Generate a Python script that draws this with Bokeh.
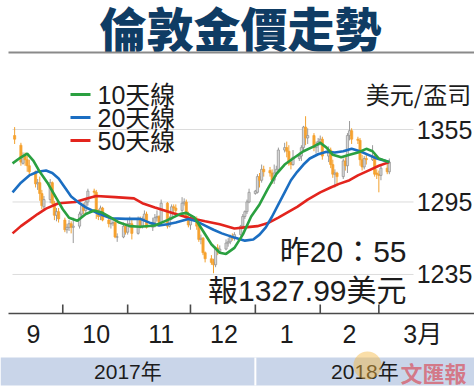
import pandas as pd
from bokeh.plotting import figure
from bokeh.models import Range1d, ColumnDataSource
from bokeh.core.properties import value
from bokeh.embed import file_html
from bokeh.resources import INLINE

# ---------------- data ----------------
title_text = "倫敦金價走勢"
trade_dates = pd.bdate_range("2017-09-08", "2018-03-06")

opens = [1350,
         1342, 1327, 1333, 1330, 1325,
         1320, 1310, 1311, 1302, 1291,
         1297, 1311, 1294, 1284, 1287,
         1280, 1272, 1274, 1277, 1274,
         1275, 1285, 1292, 1288, 1295,
         1304, 1303, 1286, 1283, 1290,
         1280, 1277, 1277, 1278, 1266,
         1266, 1275, 1270, 1277, 1277,
         1269, 1281, 1275, 1281, 1285,
         1274, 1278, 1282, 1283, 1278,
         1294, 1275, 1281, 1291, 1290,
         1288, 1294, 1295, 1282, 1276,
         1280, 1275, 1264, 1265, 1253,
         1248, 1245, 1243, 1257, 1254,
         1256, 1261, 1262, 1266, 1265,
         1268, 1275, 1283, 1287, 1295,
         1302, 1303, 1316, 1313, 1322,
         1321, 1319, 1313, 1319, 1322,
         1338, 1340, 1337, 1328, 1326,
         1331, 1333, 1340, 1357, 1348,
         1350, 1340, 1342, 1345, 1347,
         1333, 1338, 1326, 1318, 1319,
         1316, 1329, 1325, 1350, 1354,
         1347, 1346, 1330, 1324, 1331,
         1330, 1333, 1319, 1318, 1317,
         1323, 1320]

closes = [1347,
          1328, 1333, 1330, 1325, 1320,
          1310, 1311, 1302, 1292, 1297,
          1311, 1294, 1284, 1287, 1281,
          1272, 1274, 1277, 1274, 1275,
          1285, 1292, 1288, 1295, 1304,
          1303, 1286, 1283, 1290, 1280,
          1277, 1277, 1278, 1266, 1266,
          1275, 1270, 1277, 1277, 1269,
          1281, 1275, 1281, 1285, 1274,
          1278, 1282, 1283, 1278, 1294,
          1275, 1281, 1291, 1290, 1288,
          1294, 1295, 1282, 1276, 1280,
          1275, 1264, 1265, 1253, 1248,
          1245, 1243, 1257, 1254, 1256,
          1261, 1262, 1266, 1265, 1268,
          1275, 1283, 1287, 1295, 1303,
          1304, 1316, 1313, 1322, 1320,
          1319, 1313, 1319, 1322, 1338,
          1340, 1337, 1327, 1326, 1332,
          1333, 1340, 1357, 1348, 1350,
          1340, 1342, 1345, 1347, 1333,
          1338, 1326, 1318, 1319, 1316,
          1329, 1325, 1350, 1354, 1347,
          1346, 1330, 1324, 1331, 1330,
          1333, 1318, 1318, 1317, 1323,
          1320, 1328]

highs = [1357,
         1344, 1336, 1336, 1335, 1330,
         1321, 1314, 1316, 1305, 1300,
         1314, 1312, 1296, 1290, 1290,
         1282, 1277, 1280, 1279, 1282,
         1287, 1294, 1294, 1297, 1306,
         1306, 1305, 1289, 1292, 1291,
         1283, 1282, 1281, 1280, 1269,
         1278, 1277, 1280, 1283, 1280,
         1283, 1283, 1283, 1288, 1287,
         1282, 1285, 1288, 1284, 1297,
         1295, 1283, 1293, 1293, 1293,
         1299, 1298, 1297, 1287, 1285,
         1283, 1277, 1268, 1266, 1254,
         1251, 1248, 1258, 1260, 1259,
         1264, 1265, 1268, 1269, 1270,
         1276, 1285, 1288, 1297, 1306,
         1305, 1318, 1319, 1326, 1325,
         1324, 1322, 1326, 1325, 1340,
         1344, 1345, 1342, 1331, 1338,
         1336, 1342, 1358, 1366, 1356,
         1352, 1345, 1348, 1350, 1349,
         1341, 1340, 1330, 1322, 1320,
         1331, 1332, 1352, 1362, 1356,
         1349, 1348, 1334, 1333, 1335,
         1342, 1336, 1322, 1321, 1326,
         1327, 1331]

lows = [1343,
        1325, 1326, 1325, 1320, 1318,
        1307, 1305, 1296, 1289, 1288,
        1294, 1292, 1280, 1279, 1278,
        1270, 1269, 1271, 1269, 1261,
        1273, 1283, 1285, 1286, 1292,
        1298, 1281, 1280, 1280, 1279,
        1274, 1273, 1275, 1265, 1262,
        1265, 1268, 1268, 1274, 1264,
        1268, 1273, 1273, 1279, 1273,
        1271, 1274, 1279, 1276, 1277,
        1273, 1274, 1280, 1286, 1286,
        1286, 1292, 1280, 1274, 1272,
        1272, 1262, 1260, 1251, 1245,
        1243, 1236, 1241, 1251, 1252,
        1255, 1258, 1260, 1263, 1263,
        1267, 1274, 1281, 1285, 1294,
        1301, 1302, 1307, 1311, 1316,
        1316, 1310, 1310, 1316, 1320,
        1336, 1332, 1325, 1322, 1325,
        1329, 1329, 1338, 1342, 1343,
        1337, 1335, 1336, 1342, 1330,
        1328, 1323, 1315, 1307, 1308,
        1314, 1321, 1319, 1346, 1343,
        1343, 1325, 1321, 1322, 1326,
        1329, 1316, 1314, 1303, 1313,
        1318, 1318]

ma_labels = ["10天線", "20天線", "50天線"]

ma10_dates = ["2017-09-07", "2017-09-11", "2017-09-14", "2017-09-17", "2017-09-20",
              "2017-09-24", "2017-09-28", "2017-10-01", "2017-10-04", "2017-10-08",
              "2017-10-12", "2017-10-16", "2017-10-20", "2017-10-24", "2017-10-28",
              "2017-11-02", "2017-11-07", "2017-11-14", "2017-11-20", "2017-11-26",
              "2017-11-29", "2017-12-03", "2017-12-07", "2017-12-11", "2017-12-15",
              "2017-12-18", "2017-12-22", "2017-12-26", "2017-12-30", "2018-01-03",
              "2018-01-07", "2018-01-11", "2018-01-15", "2018-01-19", "2018-01-24",
              "2018-01-29", "2018-02-01", "2018-02-04", "2018-02-07", "2018-02-11",
              "2018-02-15", "2018-02-19", "2018-02-23", "2018-02-26", "2018-03-01",
              "2018-03-06"]
ma10 = [1327, 1332, 1335, 1329, 1320,
        1310, 1298, 1289, 1282, 1279.5,
        1285, 1288, 1286, 1282, 1278,
        1275, 1274.5, 1275.5, 1280, 1285,
        1286, 1282, 1271, 1260, 1253,
        1252, 1257, 1268, 1283, 1293,
        1306, 1318, 1326, 1331, 1337,
        1341, 1344, 1340, 1334, 1332,
        1334, 1336, 1339, 1337, 1331,
        1328]

ma20_dates = ["2017-09-07", "2017-09-11", "2017-09-15", "2017-09-19", "2017-09-23",
              "2017-09-26", "2017-09-29", "2017-10-02", "2017-10-05", "2017-10-09",
              "2017-10-12", "2017-10-18", "2017-10-24", "2017-10-31", "2017-11-07",
              "2017-11-12", "2017-11-16", "2017-11-20", "2017-11-24", "2017-11-30",
              "2017-12-04", "2017-12-08", "2017-12-12", "2017-12-16", "2017-12-22",
              "2017-12-27", "2017-12-31", "2018-01-03", "2018-01-06", "2018-01-09",
              "2018-01-12", "2018-01-15", "2018-01-18", "2018-01-21", "2018-01-24",
              "2018-01-27", "2018-01-31", "2018-02-04", "2018-02-08", "2018-02-12",
              "2018-02-16", "2018-02-20", "2018-02-24", "2018-02-28", "2018-03-06"]
ma20 = [1303, 1311, 1317, 1320, 1321,
        1319, 1314.5, 1307, 1299.5, 1294,
        1290.5, 1285.5, 1281.5, 1281, 1281,
        1277.5, 1275.5, 1276.5, 1278, 1281,
        1279, 1275.5, 1272, 1269, 1265.5,
        1263, 1264, 1268, 1274, 1283,
        1293, 1303, 1313, 1320, 1326,
        1331, 1334.5, 1336.5, 1336, 1337,
        1339, 1337, 1334, 1331, 1328]

ma50_dates = ["2017-09-07", "2017-09-11", "2017-09-15", "2017-09-19", "2017-09-23",
              "2017-09-29", "2017-10-07", "2017-10-13", "2017-10-17", "2017-10-26",
              "2017-11-04", "2017-11-08", "2017-11-14", "2017-11-22", "2017-11-30",
              "2017-12-08", "2017-12-15", "2017-12-22", "2017-12-27", "2018-01-02",
              "2018-01-07", "2018-01-12", "2018-01-17", "2018-01-21", "2018-01-26",
              "2018-02-01", "2018-02-06", "2018-02-10", "2018-02-15", "2018-02-19",
              "2018-02-24", "2018-03-01", "2018-03-06"]
ma50 = [1269, 1275, 1280, 1285, 1289.5,
        1294, 1295, 1298, 1300, 1299,
        1298, 1294, 1290.5, 1286, 1282,
        1279, 1276.5, 1273, 1274, 1275,
        1277.5, 1282, 1287, 1291, 1297,
        1303, 1307, 1310, 1313, 1317,
        1321, 1325, 1328]

ytick_values = [1355, 1295, 1235]
ytick_labels = ["1355", "1295", "1235"]
unit_label = "美元/盃司"

month_starts = ["2017-10-01", "2017-11-01", "2017-12-01",
                "2018-01-01", "2018-02-01", "2018-03-01"]
month_label_dates = ["2017-09-17", "2017-10-17", "2017-11-17", "2017-12-17",
                     "2018-01-16", "2018-02-15", "2018-03-22"]
month_labels = ["9", "10", "11", "12", "1", "2", "3月"]
year_labels = ["2017年", "2018年"]
year_boundary = "2018-01-01"
note_lines = ["昨20：55", "報1327.99美元"]
watermark = "文匯報"

# ---------------- layout helpers ----------------
ORIGIN = pd.Timestamp("2017-09-01")
W, H = 474, 387


def days(ds):
    return ((pd.to_datetime(ds) - ORIGIN) / pd.Timedelta(days=1))


def px2x(px):
    return (px + 0.52) / 2.0932


def py2y(py):
    return 1355 - (py - 129) / 1.208


NARROW = "Liberation Sans Narrow, Liberation Sans, Noto Sans CJK TC"
CJK = "Noto Sans CJK TC"
TITLE_FONT = "Noto Sans CJK TC Black, Noto Sans CJK TC"
TXT = "#1c1c1c"

p = figure(width=W, height=H,
           x_range=Range1d(px2x(0), px2x(W)),
           y_range=Range1d(py2y(H), py2y(0)),
           output_backend="svg", toolbar_location=None,
           x_axis_type=None, y_axis_type=None, min_border=0,
           outline_line_color=None,
           background_fill_color="white", border_fill_color="white")

# title and rule
p.text(x=[px2x(240)], y=[py2y(26)], text=[title_text],
       text_font=value(TITLE_FONT), text_font_style="bold", text_font_size="47px",
       text_color="#0f3c64", text_align="center", text_baseline="middle")
p.segment(x0=[px2x(8)], x1=[px2x(W)], y0=[py2y(52)], y1=[py2y(52)],
          line_color="#8a8a8a", line_width=2)

# grid lines and y labels
p.segment(x0=[px2x(12)] * len(ytick_values), x1=[px2x(413)] * len(ytick_values),
          y0=ytick_values, y1=ytick_values, line_color="#dcdcdc", line_width=1)
p.text(x=[px2x(444)] * len(ytick_values), y=ytick_values, text=ytick_labels,
       text_font=value(NARROW), text_font_size="25px", text_color=TXT,
       text_align="center", text_baseline="middle")
p.text(x=[px2x(418)], y=[py2y(93)], text=[unit_label],
       text_font=value(CJK), text_font_size="24px", text_color=TXT,
       text_align="center", text_baseline="middle")

# candlesticks
xs = days(trade_dates).to_numpy()
up = [c >= o for o, c in zip(opens, closes)]
src = ColumnDataSource(dict(
    x=xs, top=[max(o, c) for o, c in zip(opens, closes)],
    bottom=[min(o, c) for o, c in zip(opens, closes)],
    high=highs, low=lows,
    wick=["#9a9a9a" if u else "#f2a12e" for u in up],
    fill=["#d6d6d6" if u else "#f6a22f" for u in up],
    edge=["#8f8f8f" if u else "#f6a22f" for u in up],
))
p.segment(x0="x", x1="x", y0="high", y1="low", line_color="wick", line_width=1, source=src)
p.vbar(x="x", width=1.05, top="top", bottom="bottom", fill_color="fill",
       line_color="edge", line_width=0.7, source=src)

# moving averages
ma_colors = ["#2aa040", "#1b6ec2", "#e3241d"]
p.line(days(ma50_dates), ma50, line_color=ma_colors[2], line_width=2.6)
p.line(days(ma20_dates), ma20, line_color=ma_colors[1], line_width=2.6)
p.line(days(ma10_dates), ma10, line_color=ma_colors[0], line_width=2.6)

# legend (manual)
rows = [94, 117, 140]
for lab, col, r in zip(ma_labels, ma_colors, rows):
    p.segment(x0=[px2x(70)], x1=[px2x(90)], y0=[py2y(r)], y1=[py2y(r)],
              line_color=col, line_width=3)
    p.text(x=[px2x(97)], y=[py2y(r)], text=[lab], text_font=value(NARROW),
           text_font_size="25px", text_color=TXT, text_align="left",
           text_baseline="middle")

# annotation
p.text(x=[px2x(406)] * 2, y=[py2y(251), py2y(290)], text=note_lines,
       text_font=value(NARROW), text_font_size="30px", text_color=TXT,
       text_align="right", text_baseline="middle")

# x axis
p.segment(x0=[px2x(8)], x1=[px2x(W)], y0=[py2y(313)], y1=[py2y(313)],
          line_color="#4a4a4a", line_width=1.6)
ms = days(month_starts).to_numpy()
p.segment(x0=ms, x1=ms, y0=[py2y(313)] * len(ms), y1=[py2y(304)] * len(ms),
          line_color="#4a4a4a", line_width=1.6)
p.text(x=days(month_label_dates).to_numpy(), y=[py2y(333)] * len(month_labels),
       text=month_labels, text_font=value(NARROW), text_font_size="25px",
       text_color=TXT, text_align="center", text_baseline="middle")

# year band
yb = days([year_boundary])[0]
p.quad(left=[px2x(0)], right=[px2x(W)], top=[py2y(357)], bottom=[py2y(385)],
       fill_color="#c9d5e9", line_color=None)
p.segment(x0=[yb], x1=[yb], y0=[py2y(357)], y1=[py2y(385)],
          line_color="white", line_width=2)
p.text(x=[(px2x(0) + yb) / 2, (yb + px2x(W)) / 2], y=[py2y(371)] * 2,
       text=year_labels, text_font=value(NARROW), text_font_size="21px",
       text_color=TXT, text_align="center", text_baseline="middle")

# watermark
p.scatter(x=[px2x(367)], y=[py2y(365)], size=28, marker="circle",
          fill_color="#f5b63e", fill_alpha=0.45, line_color=None)
p.text(x=[px2x(433)], y=[py2y(371)], text=[watermark], text_font=value(CJK),
       text_font_style="bold", text_font_size="22px", text_color="#d9434f",
       text_alpha=0.65, text_align="center", text_baseline="middle")

open("out.html", "w").write(file_html(p, INLINE))
